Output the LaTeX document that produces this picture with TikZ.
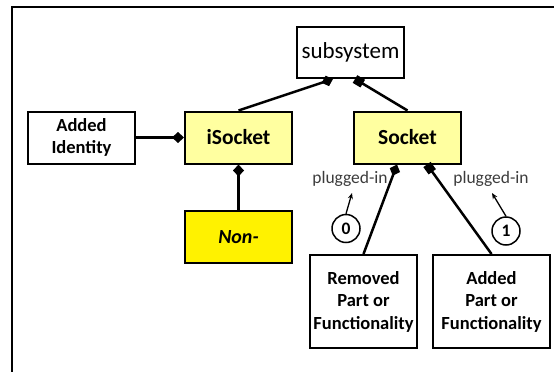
\documentclass[tikz,border=0pt]{standalone}
\usepackage{fontspec}
\setmainfont{Carlito}
\usepackage{xcolor}
\usepackage{tikz}
\usetikzlibrary{arrows.meta}
\definecolor{paleyellow}{RGB}{255,255,160}
\definecolor{labelgray}{RGB}{60,60,60}

\begin{document}
\begin{tikzpicture}[x=1pt,y=-1pt,
box/.style={draw,line width=2pt,minimum width=107pt,minimum height=52pt,inner sep=0pt,align=center,font=\bfseries\fontsize{18.5}{22.5}\selectfont},
bigtext/.style={font=\bfseries\fontsize{21.5}{26}\selectfont},
link/.style={line width=2.5pt},
dia/.style={-{Diamond[length=12pt,width=11pt]}},
sqr/.style={-{Square[length=9pt,width=9pt]}},
lbl/.style={text=labelgray,font=\fontsize{17.5}{19}\selectfont},
circ/.style={circle,draw,line width=1.5pt,minimum size=28pt,inner sep=0pt,font=\bfseries\fontsize{17.5}{17.5}\selectfont},
ptr/.style={line width=1.3pt,-{Stealth[length=6pt,width=5pt]}}]
\useasboundingbox(0,0)rectangle(554,372);
\begin{scope}
\clip(0,0)rectangle(554,372);
\draw[line width=2pt](12,390)--(12,7)--(580,7);
\end{scope}

\node[box,minimum height=51pt,font=\fontsize{23}{26}\selectfont](sub)at(350.5,52.5){subsystem};
\node[box](ident)at(81.5,137.5){Added\\Identity};
\node[box,bigtext,fill=paleyellow](isock)at(238.5,137.5){iSocket};
\node[box,bigtext,fill=paleyellow](sock)at(407.5,137.5){Socket};
\node[box,fill=yellow,font=\bfseries\itshape\fontsize{20}{24}\selectfont](non)at(238.5,237){Non-};
\node[box,minimum height=93pt](rem)at(363.5,301.5){Removed\\Part or\\Functionality};
\node[box,minimum width=117pt,minimum height=93pt](add)at(491.5,301.5){Added\\Part or\\Functionality};

\draw[link,dia](isock.north)--([xshift=-17.5pt]sub.south);
\draw[link,sqr](sock.north)--([xshift=4.5pt]sub.south);
\draw[link,dia](ident.east)--(isock.west);
\draw[link,dia](non.north)--(isock.south);
\draw[link,dia](rem.north)--([xshift=-10.5pt]sock.south);
\draw[link,sqr](add.north)--([xshift=19.5pt]sock.south);

\node[lbl](plug0)at(350,179){plugged-in};
\node[lbl](plug1)at(491,179){plugged-in};
\node[circ](n0)at(346,228.5){0};
\node[circ](n1)at(506,231){1};
\coordinate(tip0)at(352,193);
\coordinate(tip1)at(492,193);
\draw[ptr](n0.north)--(tip0);
\draw[ptr](n1.north)--(tip1);
\end{tikzpicture}
\end{document}
